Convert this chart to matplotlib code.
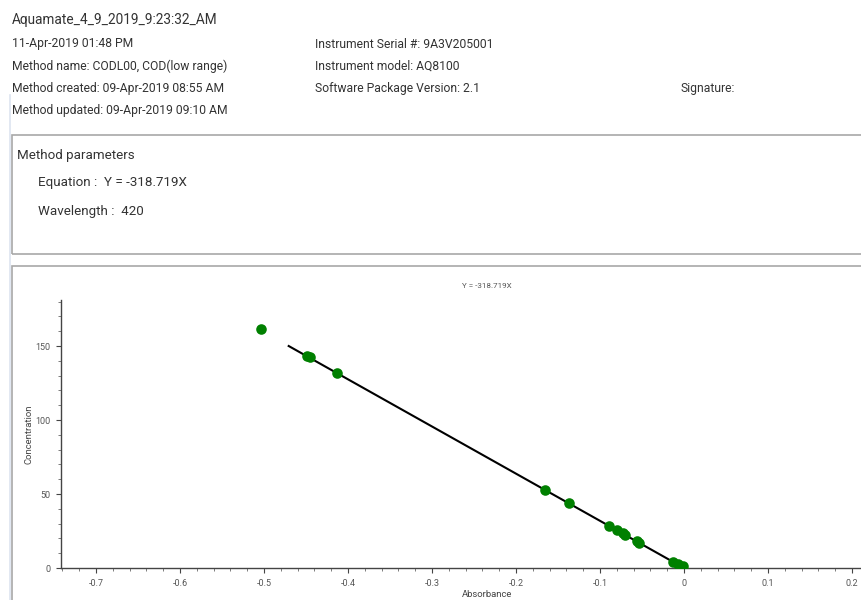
import numpy as np
import matplotlib
matplotlib.use("Agg")
import matplotlib.pyplot as plt
from matplotlib.patches import Rectangle
from matplotlib.lines import Line2D
from matplotlib.ticker import MultipleLocator

plt.rcParams['font.family'] = ['Roboto', 'DejaVu Sans']

# report header
title = "Aquamate_4_9_2019_9:23:32_AM"
left_info = ["11-Apr-2019 01:48 PM",
             "Method name: CODL00, COD(low range)",
             "Method created: 09-Apr-2019 08:55 AM",
             "Method updated: 09-Apr-2019 09:10 AM"]
right_info = ["Instrument Serial #: 9A3V205001",
              "Instrument model: AQ8100",
              "Software Package Version: 2.1"]
params = ["Equation :  Y = -318.719X", "Wavelength :  420"]

# calibration data
slope = -318.719
absorbance = [-0.5036, -0.4484, -0.4450, -0.4127, -0.1650, -0.1365, -0.0893,
              -0.0800, -0.0730, -0.0700, -0.0560, -0.0530, -0.0127, -0.0067, -0.0016]
concentration = [161.3, 143.2, 142.4, 132.0, 52.9, 43.9, 28.4,
                 25.7, 23.4, 22.3, 18.4, 17.1, 4.3, 2.7, 1.3]
fit_x = [-0.4706, 0.0]

W, H = 862, 600
fig = plt.figure(figsize=(W / 100, H / 100), dpi=100)


def fx(px):
    return px / W


def fy(py):
    return 1 - py / H


txt = '#333333'
fig.text(fx(12), fy(20), title, fontsize=9.8, color=txt, va='center')
for i, s in enumerate(left_info):
    fig.text(fx(12), fy(44 + i * 22.3), s, fontsize=8.7, color=txt, va='center')
for i, s in enumerate(right_info):
    fig.text(fx(315), fy(44 + i * 22.3), s, fontsize=8.7, color=txt, va='center')
fig.text(fx(681), fy(88), "Signature:", fontsize=8.7, color=txt, va='center')

# left border strip
fig.add_artist(Line2D([fx(10.5), fx(10.5)], [fy(95), fy(600)], color='#dde4f0', lw=1.2))

# method parameter box
fig.add_artist(Rectangle((fx(12), fy(254)), fx(900) - fx(12), fy(135) - fy(254),
                         fill=False, edgecolor='#a8a8a8', lw=1.2))
fig.text(fx(17), fy(155), "Method parameters", fontsize=9.6, color=txt, va='center')
fig.text(fx(38), fy(183), params[0], fontsize=9.6, color=txt, va='center')
fig.text(fx(38), fy(211), params[1], fontsize=9.6, color=txt, va='center')

# chart box
fig.add_artist(Rectangle((fx(12), fy(640)), fx(900) - fx(12), fy(266) - fy(640),
                         fill=False, edgecolor='#a8a8a8', lw=1.2))

# axes: 0.1 absorbance = 84 px, 1 concentration = 1.48 px
x0, x1 = 61, 913
y0, y1 = 568, 300
ax = fig.add_axes([fx(x0), fy(y0), (x1 - x0) / W, (y0 - y1) / H])
ax.set_xlim((x0 - 684) / 840, (x1 - 684) / 840)
ax.set_ylim(0, (y0 - y1) / 1.48)

ax.plot(fit_x, [slope * v for v in fit_x], color='black', lw=1.5, zorder=2)
ax.scatter(absorbance, concentration, s=58, color='#008000', zorder=3, linewidths=0)

ax.set_title("Y = -318.719X", fontsize=5.8, color='#555555', pad=9)
ax.set_xlabel("Absorbance", fontsize=6.8, color='#444444', labelpad=1.5)
ax.set_ylabel("Concentration", fontsize=6.8, color='#444444', labelpad=1)

ax.xaxis.set_major_locator(MultipleLocator(0.1))
ax.xaxis.set_minor_locator(MultipleLocator(0.02))
ax.yaxis.set_major_locator(MultipleLocator(50))
ax.yaxis.set_minor_locator(MultipleLocator(10))
ax.xaxis.set_major_formatter(plt.FuncFormatter(lambda v, p: f"{v:.1f}".replace("-0.0", "0").replace("0.0", "0")))
ax.tick_params(axis='both', which='major', labelsize=6.5, labelcolor='#555555',
               color='#444444', length=3.5, width=0.8)
ax.tick_params(axis='x', which='major', pad=4.5)
ax.tick_params(axis='y', which='major', pad=4)
ax.tick_params(axis='both', which='minor', color='#666666', length=2, width=0.6)
for side in ['top', 'right']:
    ax.spines[side].set_visible(False)
for side in ['left', 'bottom']:
    ax.spines[side].set_color('#444444')
    ax.spines[side].set_linewidth(1.0)

fig.savefig("out.png", dpi=100)
